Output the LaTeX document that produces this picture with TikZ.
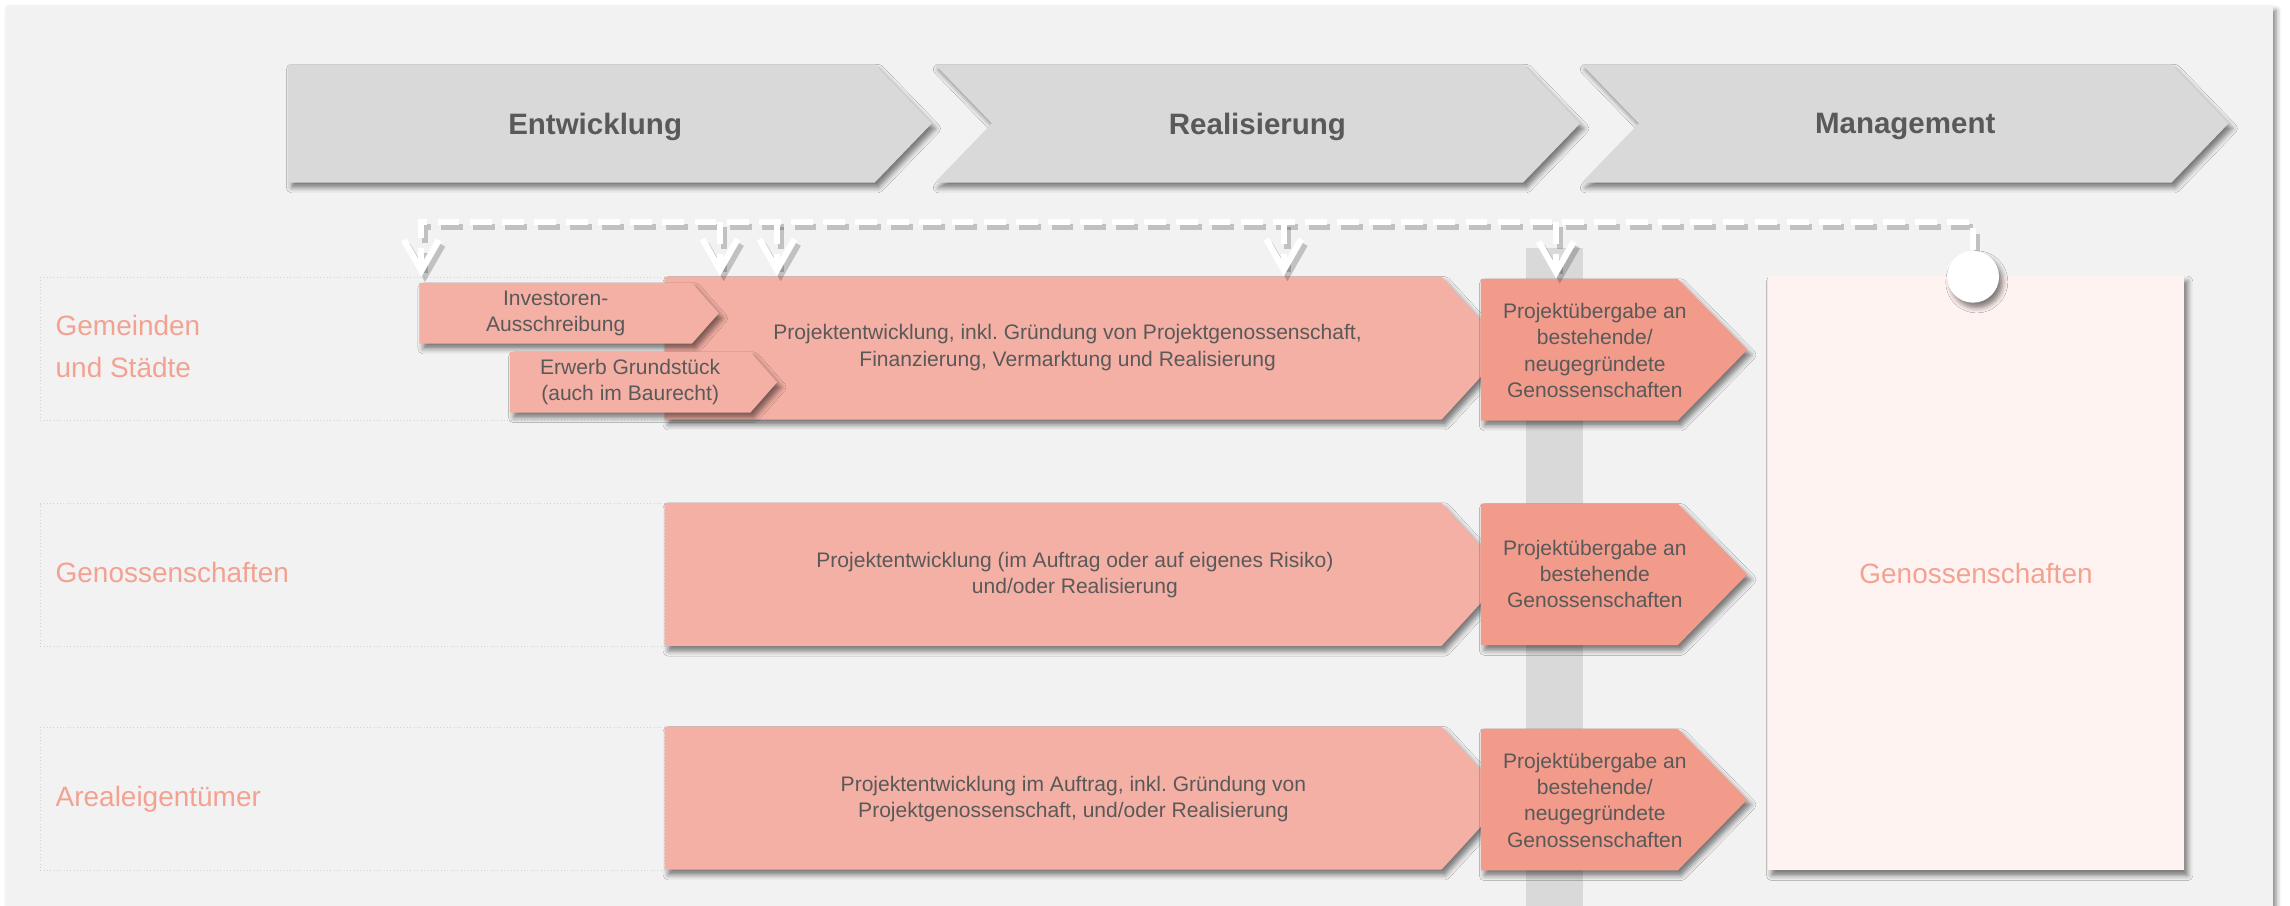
\documentclass[tikz,border=0pt]{standalone}
\usepackage{fontspec}
\setmainfont{Liberation Sans}
\usepackage{tikz}
\usetikzlibrary{shapes.symbols,arrows.meta,shadows.blur,calc,positioning}
\definecolor{panelgray}{HTML}{F2F2F2}
\definecolor{phasegray}{HTML}{D9D9D9}
\definecolor{textgray}{HTML}{595959}
\definecolor{salmon}{HTML}{F5B0A5}
\definecolor{salmondark}{HTML}{F29B8B}
\definecolor{salmontext}{HTML}{F3A292}
\definecolor{blush}{HTML}{FFF3F1}
\definecolor{framegray}{HTML}{D2D2D2}
\newcommand\phasefont{\fontsize{11.5}{14}\selectfont\bfseries}
\newcommand\rowfont{\fontsize{10.9}{16.4}\selectfont}
\newcommand\boxfont{\fontsize{8.2}{10.2}\selectfont}
\frenchspacing
\tikzset
{
    softshadow/.style = {blur shadow={shadow xshift=0.05cm, shadow yshift=-0.07cm, shadow blur radius=0.07cm, shadow opacity=50}},
    phase/.style      = {signal, signal to=east, signal pointer angle=92, fill=phasegray, text=textgray, font=\phasefont, text depth=0pt, minimum width=8.84cm, minimum height=1.62cm, inner sep=0pt, softshadow},
    task/.style       = {signal, signal to=east, signal pointer angle=95, fill=salmon, minimum width=11.54cm, minimum height=1.96cm, inner sep=0pt, softshadow},
    handover/.style   = {signal, signal to=east, signal pointer angle=91, fill=salmondark, minimum width=3.65cm, minimum height=1.94cm, inner sep=0pt, softshadow},
    substep/.style    = {signal, signal to=east, signal pointer angle=97, fill=salmon, text=textgray, font=\boxfont, align=center, minimum height=0.83cm, inner sep=0pt, softshadow},
    boxtext/.style    = {text=textgray, font=\boxfont, align=center},
    rowframe/.style   = {draw=framegray, densely dotted, line width=0.3pt, minimum width=8.55cm, minimum height=1.96cm},
    rowlabel/.style   = {text=salmontext, font=\rowfont, align=left, anchor=west, inner sep=0pt},
    bus/.style        = {draw=white, line width=0.085cm, dash pattern=on 0.3cm off 0.14cm,
                         preaction={draw=black, opacity=0.2, line width=0.085cm, dash pattern=on 0.3cm off 0.14cm, transform canvas={shift={(0.05cm,-0.07cm)}}}},
    feed/.style       = {bus, ->}
}
\begin{document}
\begin{tikzpicture}[x=0.02cm, y=-0.02cm, >={Straight Barb[length=0.42cm,width=0.48cm,line width=0.085cm]}]
    \useasboundingbox (0,0) rectangle (1568,620);
    \fill[panelgray, softshadow] (4,3.5) rectangle (1556,630);

    % phases
    \node [phase, minimum width=8.82cm] (dev) at (398,84.5) {\hspace*{0.38cm}Entwicklung};
    \node [phase, signal from=west] (real) at (861,84.5) {Realisierung};
    \node [phase, signal from=west, minimum width=8.86cm] (mgmt) at (1304.5,84.5) {Management};

    \fill[phasegray] (1045,170) rectangle (1084,630);

    % rows
    \node [rowframe] (r1) at (241.25,238.85) {};
    \node [rowframe] (r2) at (241.25,393.8) {};
    \node [rowframe] (r3) at (241.25,547) {};
    \node [rowlabel] (l1) at ($(r1.west)+(10.5,-1.5)$) {Gemeinden\\und Städte};
    \node [rowlabel] (l2) at ($(r2.west)+(10.5,-2)$) {Genossenschaften};
    \node [rowlabel] (l3) at ($(r3.west)+(10.5,0)$) {Arealeigentümer};

    \node [task] (p1) at (721,238.4) {};
    \node [task] (p2) at (721,393.3) {};
    \node [task] (p3) at (721,546.5) {};
    \node [boxtext] (p1t) at (731,238) {Projektentwicklung, inkl. Gründung von Projektgenossenschaft,\\Finanzierung, Vermarktung und Realisierung};
    \node [boxtext] (p2t) at (736,394) {Projektentwicklung (im Auftrag oder auf eigenes Risiko)\\und/oder Realisierung};
    \node [boxtext] (p3t) at (735,547) {Projektentwicklung im Auftrag, inkl. Gründung von\\Projektgenossenschaft, und/oder Realisierung};

    \node [substep, minimum width=4.1cm] (inv) at (380.5,214.5) {Investoren-\\Ausschreibung};
    \node [substep, minimum width=3.66cm] (erw) at (431.5,261.7) {Erwerb Grundstück\\(auch im Baurecht)};

    \node [handover] (h1) at (1081.3,239.5) {};
    \node [handover] (h2) at (1081.3,393.3) {};
    \node [handover] (h3) at (1081.3,547.5) {};
    \node [boxtext] (h1t) at (1092,240) {Projektübergabe an\\bestehende/\\neugegründete\\Genossenschaften};
    \node [boxtext] (h2t) at (1092,393) {Projektübergabe an\\bestehende\\Genossenschaften};
    \node [boxtext] (h3t) at (1092,548) {Projektübergabe an\\bestehende/\\neugegründete\\Genossenschaften};

    \node [fill=blush, minimum width=5.7cm, minimum height=8.14cm, text=salmontext, font=\rowfont, softshadow] (gen) at (1353,392.5) {Genossenschaften};

    % connectors
    \coordinate (b1) at (288.5,152);
    \coordinate (b2) at (493,152);
    \coordinate (b3) at (532,152);
    \coordinate (b4) at (879,152);
    \coordinate (b5) at (1065.5,152);
    \coordinate (b6) at (1351,152);
    \node [circle, fill=white, minimum size=0.71cm, inner sep=0pt] (knob) at (1351,189.5) {};
    \draw [feed] (knob.north) -- (b6) -- (b1) -- (b1 |- r1.north);
    \draw [feed] (b2) -- (b2 |- p1.north);
    \draw [feed] (b3) -- (b3 |- p1.north);
    \draw [feed] (b4) -- (b4 |- p1.north);
    \draw [feed] (b5) -- (b5 |- h1.north);
    \node [circle, fill=white, minimum size=0.71cm, inner sep=0pt, softshadow] at (knob) {};
\end{tikzpicture}
\end{document}
